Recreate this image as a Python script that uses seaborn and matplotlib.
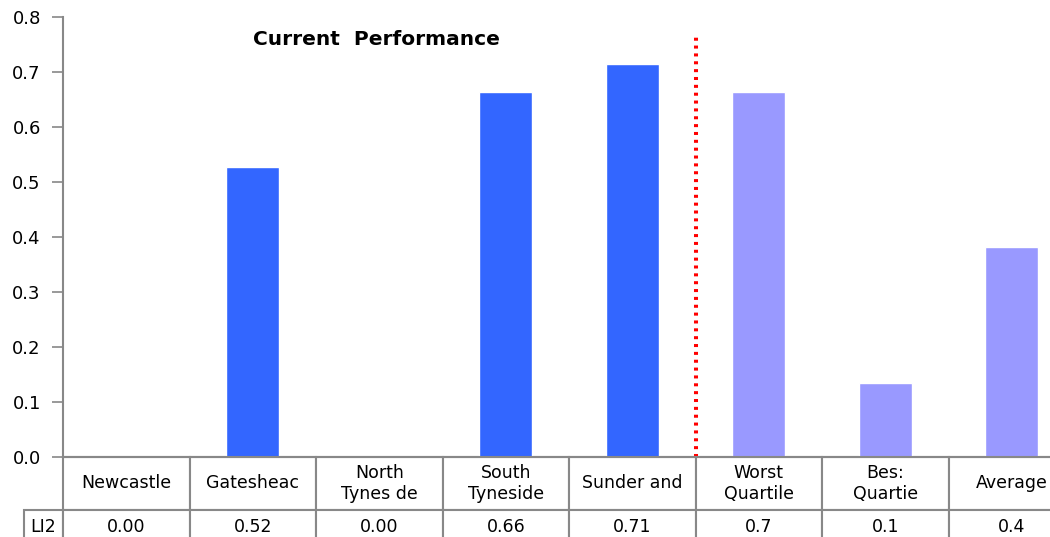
import matplotlib
matplotlib.use("Agg")
import matplotlib.pyplot as plt
import seaborn as sns
import pandas as pd

# data
categories = ["Newcastle", "Gatesheac", "North\nTynes de", "South\nTyneside", "Sunder and",
              "Worst\nQuartile", "Bes:\nQuartie", "Average"]
values = [0.0, 0.527, 0.0, 0.664, 0.715, 0.664, 0.135, 0.382]
groups = ["authority"] * 5 + ["benchmark"] * 3
table_values = ["0.00", "0.52", "0.00", "0.66", "0.71", "0.7", "0.1", "0.4"]
row_label = "LI2"
yticks = [0.0, 0.1, 0.2, 0.3, 0.4, 0.5, 0.6, 0.7, 0.8]

colors = {"authority": "#3366FF", "benchmark": "#9999FF"}
grey = "#888888"

sns.set_theme(style="white")
plt.rcParams["font.family"] = ["DejaVu Sans"]
plt.rcParams["text.color"] = "black"
plt.rcParams["ytick.labelcolor"] = "black"

df = pd.DataFrame({"category": categories, "value": values, "group": groups})

# axes run a little past the right edge of the figure, as in the reference
ax_w = 1012
fig = plt.figure(figsize=(10.5, 5.37), dpi=100)
ax = fig.add_axes([63 / 1050, 80 / 537, ax_w / 1050, 440 / 537])

sns.barplot(data=df, x="category", y="value", hue="group", palette=colors,
            dodge=False, width=0.42, saturation=1, legend=False, ax=ax)

ax.set_xlim(-0.5, len(categories) - 0.5)
ax.set_ylim(0, 0.8)
ax.set_yticks(yticks)
ax.set_yticklabels([f"{t:.1f}" for t in yticks], fontsize=13, color="black")
ax.set_xticks([])
ax.set_xlabel("")
ax.set_ylabel("")
ax.tick_params(axis="y", direction="out", length=8, width=1.2, color=grey, pad=8, left=True)

for s in ["top", "right"]:
    ax.spines[s].set_visible(False)
for s in ["left", "bottom"]:
    ax.spines[s].set_color(grey)
    ax.spines[s].set_linewidth(1.5)

# separator between authorities and benchmarks
ax.vlines(4.5, 0, 0.77, colors="red", linestyles=(0, (0.75, 1.2)), linewidth=2.9)

ax.text((376 - 63) / ax_w, 0.948, "Current  Performance", transform=ax.transAxes,
        ha="center", va="center", fontsize=14.5, fontweight="bold", color="black")

# data table under the axis
lab_w = 39 / ax_w
cell_text = [[""] + categories, [row_label] + table_values]
col_w = [lab_w] + [1 / len(categories)] * len(categories)
tbl = ax.table(cellText=cell_text, colWidths=col_w, cellLoc="center",
               bbox=[-lab_w, -88 / 440, 1 + lab_w, 88 / 440])
tbl.auto_set_font_size(False)
for (r, c), cell in tbl.get_celld().items():
    cell.set_edgecolor(grey)
    cell.set_linewidth(1.5)
    cell.set_height(53 if r == 0 else 35)
    cell.get_text().set_fontsize(12.5)
    cell.get_text().set_color("black")
    if r == 0 and c == 0:
        cell.visible_edges = ""

fig.savefig("out.png", dpi=100)
